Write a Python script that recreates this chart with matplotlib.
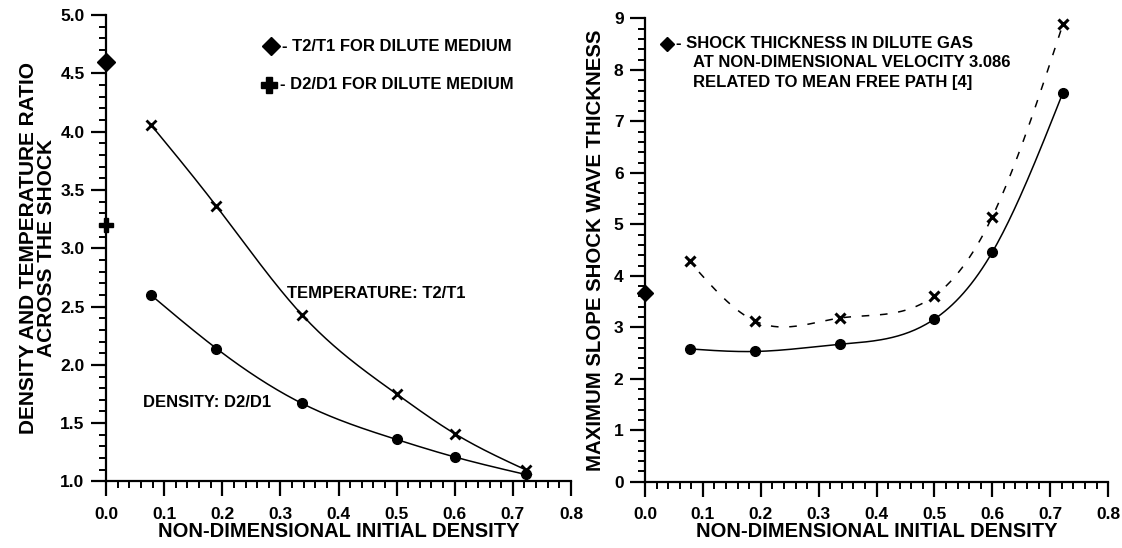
import matplotlib
matplotlib.use("Agg")
import matplotlib.pyplot as plt
from matplotlib.ticker import MultipleLocator, FormatStrFormatter
import numpy as np

plt.rcParams['font.family'] = ['Liberation Sans', 'DejaVu Sans']
plt.rcParams['font.weight'] = 'bold'

# data
density = [0.077, 0.19, 0.337, 0.5, 0.6, 0.722]

temp_ratio = [4.06, 3.36, 2.43, 1.75, 1.41, 1.10]
dens_ratio = [2.60, 2.14, 1.67, 1.36, 1.21, 1.06]
dilute_temp = 4.6
dilute_dens = 3.2

thick_solid = [2.58, 2.53, 2.67, 3.16, 4.46, 7.56]
thick_cross = [4.28, 3.12, 3.18, 3.61, 5.15, 8.89]
dilute_thick = 3.66


def spline(x, y, n=200):
    # natural cubic spline through the points
    x = np.asarray(x, float)
    y = np.asarray(y, float)
    k = len(x)
    h = np.diff(x)
    A = np.zeros((k, k))
    b = np.zeros(k)
    A[0, 0] = A[-1, -1] = 1
    for i in range(1, k - 1):
        A[i, i - 1] = h[i - 1]
        A[i, i] = 2 * (h[i - 1] + h[i])
        A[i, i + 1] = h[i]
        b[i] = 3 * ((y[i + 1] - y[i]) / h[i] - (y[i] - y[i - 1]) / h[i - 1])
    c = np.linalg.solve(A, b)
    xs = np.linspace(x[0], x[-1], n)
    idx = np.clip(np.searchsorted(x, xs) - 1, 0, k - 2)
    dx = xs - x[idx]
    bb = (y[idx + 1] - y[idx]) / h[idx] - h[idx] * (2 * c[idx] + c[idx + 1]) / 3
    dd = (c[idx + 1] - c[idx]) / (3 * h[idx])
    ys = y[idx] + bb * dx + c[idx] * dx ** 2 + dd * dx ** 3
    return xs, ys


fig = plt.figure(figsize=(11.22, 5.48), dpi=100)
ax1 = fig.add_axes([0.0945, 0.1214, 0.4144, 0.8513])
ax2 = fig.add_axes([0.5749, 0.1210, 0.4127, 0.8453])


def style(ax):
    for s in ['top', 'right']:
        ax.spines[s].set_visible(False)
    for s in ['left', 'bottom']:
        ax.spines[s].set_linewidth(1.6)
    ax.tick_params(which='major', direction='out', length=10.5, width=1.6,
                   labelsize=12.5)
    ax.tick_params(axis='x', which='major', pad=8)
    ax.tick_params(axis='y', which='major', pad=5)
    ax.tick_params(which='minor', direction='out', length=5, width=1.4)
    ax.xaxis.set_major_locator(MultipleLocator(0.1))
    ax.xaxis.set_minor_locator(MultipleLocator(0.02))
    ax.xaxis.set_major_formatter(FormatStrFormatter('%.1f'))
    ax.set_xlim(0, 0.8)
    ax.set_xlabel('NON-DIMENSIONAL INITIAL DENSITY', fontsize=14.5,
                  fontweight='bold', labelpad=0)
    for lab in ax.get_xticklabels() + ax.get_yticklabels():
        lab.set_fontweight('bold')


# left panel
xs, ys = spline(density, temp_ratio)
ax1.plot(xs, ys, color='black', lw=1.1)
ax1.plot(density, temp_ratio, 'x', color='black', ms=7, mew=2)
xs, ys = spline(density, dens_ratio)
ax1.plot(xs, ys, color='black', lw=1.1)
ax1.plot(density, dens_ratio, 'o', color='black', ms=7)
ax1.plot([0], [dilute_temp], 'D', color='black', ms=9, clip_on=False)
ax1.plot([0], [dilute_dens], 'P', color='black', ms=10, clip_on=False)

ax1.set_ylim(1.0, 5.0)
ax1.yaxis.set_major_locator(MultipleLocator(0.5))
ax1.yaxis.set_minor_locator(MultipleLocator(0.1))
ax1.yaxis.set_major_formatter(FormatStrFormatter('%.1f'))
style(ax1)
ax1.set_ylabel('DENSITY AND TEMPERATURE RATIO\nACROSS THE SHOCK',
               fontsize=15, fontweight='bold', linespacing=0.95, labelpad=3)

ax1.plot([0.284], [4.73], 'D', color='black', ms=9)
ax1.text(0.302, 4.73, '- T2/T1 FOR DILUTE MEDIUM', fontsize=12,
         fontweight='bold', va='center')
ax1.plot([0.281], [4.40], 'P', color='black', ms=11)
ax1.text(0.300, 4.40, '- D2/D1 FOR DILUTE MEDIUM', fontsize=12,
         fontweight='bold', va='center')
ax1.text(0.311, 2.61, 'TEMPERATURE: T2/T1', fontsize=12,
         fontweight='bold', va='center')
ax1.text(0.064, 1.68, 'DENSITY: D2/D1', fontsize=12,
         fontweight='bold', va='center')

# right panel
xs, ys = spline(density, thick_solid)
ax2.plot(xs, ys, color='black', lw=1.1)
ax2.plot(density, thick_solid, 'o', color='black', ms=7)
xs, ys = spline(density, thick_cross)
keep = xs > 0.09
ax2.plot(xs[keep], ys[keep], color='black', lw=1.1, ls=(0, (5, 7)))
ax2.plot(density, thick_cross, 'x', color='black', ms=7, mew=2.2)
ax2.plot([0], [dilute_thick], 'D', color='black', ms=8, clip_on=False)

ax2.set_ylim(0, 9)
ax2.yaxis.set_major_locator(MultipleLocator(1))
ax2.yaxis.set_minor_locator(MultipleLocator(0.2))
ax2.yaxis.set_major_formatter(FormatStrFormatter('%d'))
style(ax2)
ax2.set_ylabel('MAXIMUM SLOPE SHOCK WAVE THICKNESS', fontsize=14.7,
               fontweight='bold', labelpad=6)

ax2.plot([0.038], [8.51], 'D', color='black', ms=7)
ax2.text(0.054, 8.51, '- SHOCK THICKNESS IN DILUTE GAS', fontsize=12,
         fontweight='bold', va='center')
ax2.text(0.083, 8.14, 'AT NON-DIMENSIONAL VELOCITY 3.086', fontsize=12,
         fontweight='bold', va='center')
ax2.text(0.083, 7.75, 'RELATED TO MEAN FREE PATH [4]', fontsize=12,
         fontweight='bold', va='center')

fig.savefig('out.png', dpi=100)
